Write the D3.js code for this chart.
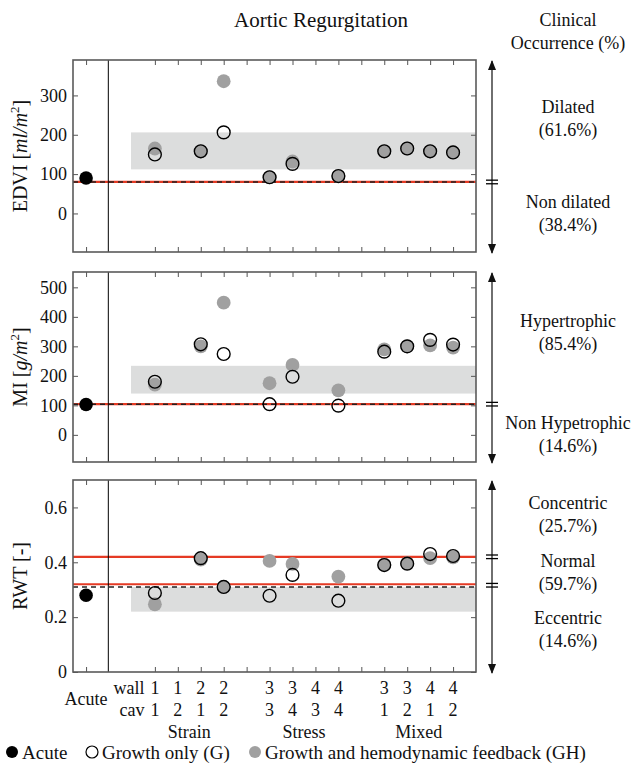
<!DOCTYPE html>
<html>
<head>
<meta charset="utf-8">
<script src="https://cdn.jsdelivr.net/npm/d3@7"></script>
<style>
  body { margin: 0; background: #fff; }
  svg text { font-family: "Liberation Serif", "Tinos", "DejaVu Serif"; fill: #111; }
</style>
</head>
<body>
<div class="chart"></div>
<script>
// slot index on the x axis for every case (0 = acute, gaps at 7 and 12)
const slots = [3, 4, 5, 6, 8, 9, 10, 11, 13, 14, 15, 16]
const wallLabels = ['1', '1', '2', '2', '3', '3', '4', '4', '3', '3', '4', '4']
const cavLabels = ['1', '2', '1', '2', '3', '4', '3', '4', '1', '2', '1', '2']
const groupNames = ['Strain', 'Stress', 'Mixed']
const groupSlots = [[3, 6], [8, 11], [13, 16]]

// EDVI [ml/m2]
const edviG = [150, null, 158, 206, 92, 126, null, 95, 158, 165, 158, 155]
const edviGH = [165, null, 158, 336, 92, 132, null, 95, 158, 165, 158, 155]
const edviAcute = 90
const edviBand = [112, 206]
const edviRed = [80]
const edviDash = 80

// MI [g/m2]
const miG = [180, null, 307, 274, 104, 197, null, 99, 282, 300, 322, 306]
const miGH = [170, null, 300, 448, 175, 237, null, 151, 290, 300, 303, 296]
const miAcute = 103
const miBand = [140, 234]
const miRed = [104]
const miDash = 104

// RWT [-]
const rwtG = [0.288, null, 0.415, 0.31, 0.278, 0.354, null, 0.26, 0.39, 0.395, 0.43, 0.423]
const rwtGH = [0.247, null, 0.41, 0.31, 0.405, 0.394, null, 0.348, 0.392, 0.397, 0.415, 0.418]
const rwtAcute = 0.28
const rwtBand = [0.22, 0.31]
const rwtRed = [0.32, 0.42]
const rwtDash = 0.31

const W = 633
const H = 764
const left = 73
const right = 476
const FONT = '"Liberation Serif", "Tinos", "DejaVu Serif"'

const svg = d3.select('.chart').append('svg').attr('width', W).attr('height', H)
svg.append('rect').attr('width', W).attr('height', H).attr('fill', '#fff')

const x = d3.scaleLinear().domain([-0.57, 17]).range([left, right])
const xTicks = [0].concat(d3.range(3, 17))

const panels = [
  {
    label: 'EDVI', unit: 'ml/m', top: 60, bottom: 252, domain: [-98, 390],
    ticks: [0, 100, 200, 300], fmt: d3.format('d'),
    G: edviG, GH: edviGH, acute: edviAcute, band: edviBand, red: edviRed, dash: edviDash,
    notes: [
      { lines: ['Dilated', '(61.6%)'], y: 107 },
      { lines: ['Non dilated', '(38.4%)'], y: 202 },
    ],
  },
  {
    label: 'MI', unit: 'g/m', top: 272, bottom: 462, domain: [-92, 552],
    ticks: [0, 100, 200, 300, 400, 500], fmt: d3.format('d'),
    G: miG, GH: miGH, acute: miAcute, band: miBand, red: miRed, dash: miDash,
    notes: [
      { lines: ['Hypertrophic', '(85.4%)'], y: 321 },
      { lines: ['Non Hypetrophic', '(14.6%)'], y: 423 },
    ],
  },
  {
    label: 'RWT', unit: null, top: 480, bottom: 672, domain: [0, 0.7],
    ticks: [0, 0.2, 0.4, 0.6], fmt: d => (d === 0 ? '0' : d3.format('.1f')(d)),
    G: rwtG, GH: rwtGH, acute: rwtAcute, band: rwtBand, red: rwtRed, dash: rwtDash,
    notes: [
      { lines: ['Concentric', '(25.7%)'], y: 503 },
      { lines: ['Normal', '(59.7%)'], y: 561 },
      { lines: ['Eccentric', '(14.6%)'], y: 618 },
    ],
  },
]

const r = 6.4
const grey = '#a0a0a0'
const red = '#e53a24'
const arrowX = 492
const noteX = 568

// arrow heads
const defs = svg.append('defs')
defs.append('marker')
  .attr('id', 'head')
  .attr('viewBox', '0 0 10 10')
  .attr('refX', 9).attr('refY', 5)
  .attr('markerWidth', 10).attr('markerHeight', 10)
  .attr('markerUnits', 'userSpaceOnUse')
  .attr('orient', 'auto-start-reverse')
  .append('path')
  .attr('d', 'M0,1 L10,5 L0,9 Z')
  .attr('fill', '#111')

panels.forEach(p => {
  const y = d3.scaleLinear().domain(p.domain).range([p.bottom, p.top])
  const g = svg.append('g')
  const clipId = 'clip-' + p.label
  defs.append('clipPath').attr('id', clipId)
    .append('rect').attr('x', left).attr('y', p.top)
    .attr('width', right - left).attr('height', p.bottom - p.top)
  const plot = g.append('g').attr('clip-path', `url(#${clipId})`)

  // shaded band of clinical range
  plot.append('rect')
    .attr('x', x(1.96)).attr('width', right - x(1.96))
    .attr('y', y(p.band[1])).attr('height', y(p.band[0]) - y(p.band[1]))
    .attr('fill', '#dcdddd')

  // red threshold lines
  plot.selectAll('.red').data(p.red).enter().append('line')
    .attr('x1', left).attr('x2', right)
    .attr('y1', d => y(d)).attr('y2', d => y(d))
    .attr('stroke', red).attr('stroke-width', 2.2)

  // dashed acute reference
  plot.append('line')
    .attr('x1', left).attr('x2', right)
    .attr('y1', y(p.dash)).attr('y2', y(p.dash))
    .attr('stroke', '#222').attr('stroke-width', 1.5)
    .attr('stroke-dasharray', '5,4')

  // separator between acute and cases
  plot.append('line')
    .attr('x1', x(0.97)).attr('x2', x(0.97))
    .attr('y1', p.top).attr('y2', p.bottom)
    .attr('stroke', '#000').attr('stroke-width', 1)

  const pts = slots.map((s, i) => ({ s, g: p.G[i], gh: p.GH[i] }))

  plot.selectAll('.gh').data(pts.filter(d => d.gh != null)).enter().append('circle')
    .attr('cx', d => x(d.s)).attr('cy', d => y(d.gh)).attr('r', r + 0.5)
    .attr('fill', grey)

  plot.selectAll('.g').data(pts.filter(d => d.g != null)).enter().append('circle')
    .attr('cx', d => x(d.s)).attr('cy', d => y(d.g)).attr('r', r)
    .attr('fill', 'none').attr('stroke', '#000').attr('stroke-width', 1.4)

  plot.append('circle')
    .attr('cx', x(0)).attr('cy', y(p.acute)).attr('r', r + 0.4)
    .attr('fill', '#000')

  // axes with inward ticks
  const axL = g.append('g').attr('transform', `translate(${left},0)`)
    .call(d3.axisLeft(y).tickValues(p.ticks).tickFormat(p.fmt).tickSize(-5).tickPadding(6))
  axL.attr('font-family', FONT)
  axL.selectAll('text').attr('font-size', 18).attr('fill', '#111')
  g.append('g').attr('transform', `translate(${right},0)`)
    .call(d3.axisRight(y).tickValues(p.ticks).tickFormat('').tickSize(-5))
  g.append('g').attr('transform', `translate(0,${p.top})`)
    .call(d3.axisTop(x).tickValues(xTicks).tickFormat('').tickSize(-5))
  g.append('g').attr('transform', `translate(0,${p.bottom})`)
    .call(d3.axisBottom(x).tickValues(xTicks).tickFormat('').tickSize(-5))
  g.selectAll('.domain').remove()
  g.selectAll('.tick line').attr('stroke', '#555').attr('stroke-width', 1)

  g.append('rect')
    .attr('x', left).attr('y', p.top)
    .attr('width', right - left).attr('height', p.bottom - p.top)
    .attr('fill', 'none').attr('stroke', '#5a5a5a').attr('stroke-width', 1.6)

  // y label
  const yl = g.append('text')
    .attr('transform', `translate(27,${(p.top + p.bottom) / 2}) rotate(-90)`)
    .attr('text-anchor', 'middle')
    .attr('font-size', 20)
  if (p.unit) {
    yl.append('tspan').text(p.label + ' [')
    yl.append('tspan').attr('font-style', 'italic').text(p.unit)
    yl.append('tspan').attr('font-size', 13).attr('dy', -8).text('2')
    yl.append('tspan').attr('dy', 8).text(']')
  } else {
    yl.text(p.label + ' [-]')
  }

  // right-hand occurrence arrow
  svg.append('line')
    .attr('x1', arrowX).attr('x2', arrowX)
    .attr('y1', p.top + 1).attr('y2', p.bottom + 1)
    .attr('stroke', '#222').attr('stroke-width', 1.3)
    .attr('marker-start', 'url(#head)').attr('marker-end', 'url(#head)')
  p.red.forEach(v => {
    const by = y(v) + (p.label === 'RWT' && v < 0.4 ? 1 : 0)
    ;[-1.8, 1.8].forEach(o => {
      svg.append('line')
        .attr('x1', arrowX - 6).attr('x2', arrowX + 6)
        .attr('y1', by + o).attr('y2', by + o)
        .attr('stroke', '#000').attr('stroke-width', 1.3)
    })
  })
  p.notes.forEach(n => {
    n.lines.forEach((t, i) => {
      svg.append('text')
        .attr('x', noteX).attr('y', n.y + i * 23)
        .attr('dy', '0.35em')
        .attr('text-anchor', 'middle')
        .attr('font-size', 18)
        .text(t)
    })
  })
})

// titles
svg.append('text').attr('x', 321).attr('y', 20).attr('dy', '0.35em')
  .attr('text-anchor', 'middle').attr('font-size', 21).text('Aortic Regurgitation')
svg.append('text').attr('x', noteX).attr('y', 20).attr('dy', '0.35em')
  .attr('text-anchor', 'middle').attr('font-size', 18).text('Clinical')
svg.append('text').attr('x', noteX).attr('y', 43).attr('dy', '0.35em')
  .attr('text-anchor', 'middle').attr('font-size', 18).text('Occurrence (%)')

// x labels
const xl = svg.append('g').attr('font-size', 18)
xl.append('text').attr('x', x(0)).attr('y', 699).attr('dy', '0.35em')
  .attr('text-anchor', 'middle').text('Acute')
xl.append('text').attr('x', x(2.55)).attr('y', 688).attr('dy', '0.35em')
  .attr('text-anchor', 'end').text('wall')
xl.append('text').attr('x', x(2.55)).attr('y', 710).attr('dy', '0.35em')
  .attr('text-anchor', 'end').text('cav')
xl.selectAll('.wall').data(slots).enter().append('text')
  .attr('x', d => x(d)).attr('y', 688).attr('dy', '0.35em')
  .attr('text-anchor', 'middle').text((d, i) => wallLabels[i])
xl.selectAll('.cav').data(slots).enter().append('text')
  .attr('x', d => x(d)).attr('y', 710).attr('dy', '0.35em')
  .attr('text-anchor', 'middle').text((d, i) => cavLabels[i])
xl.selectAll('.grp').data(groupNames).enter().append('text')
  .attr('x', (d, i) => x((groupSlots[i][0] + groupSlots[i][1]) / 2)).attr('y', 732).attr('dy', '0.35em')
  .attr('text-anchor', 'middle').text(d => d)

// legend
const legend = [
  { name: 'Acute', cx: 12, fill: '#000', stroke: 'none' },
  { name: 'Growth only (G)', cx: 92, fill: 'none', stroke: '#000' },
  { name: 'Growth and hemodynamic feedback (GH)', cx: 255, fill: grey, stroke: 'none' },
]
const lg = svg.append('g').attr('transform', 'translate(0,752)')
lg.selectAll('circle').data(legend).enter().append('circle')
  .attr('cx', d => d.cx).attr('cy', 0).attr('r', 6)
  .attr('fill', d => d.fill).attr('stroke', d => d.stroke).attr('stroke-width', 1.2)
lg.selectAll('text').data(legend).enter().append('text')
  .attr('x', d => d.cx + 10).attr('y', 0).attr('dy', '0.35em')
  .attr('font-size', 19).text(d => d.name)
</script>
</body>
</html>
